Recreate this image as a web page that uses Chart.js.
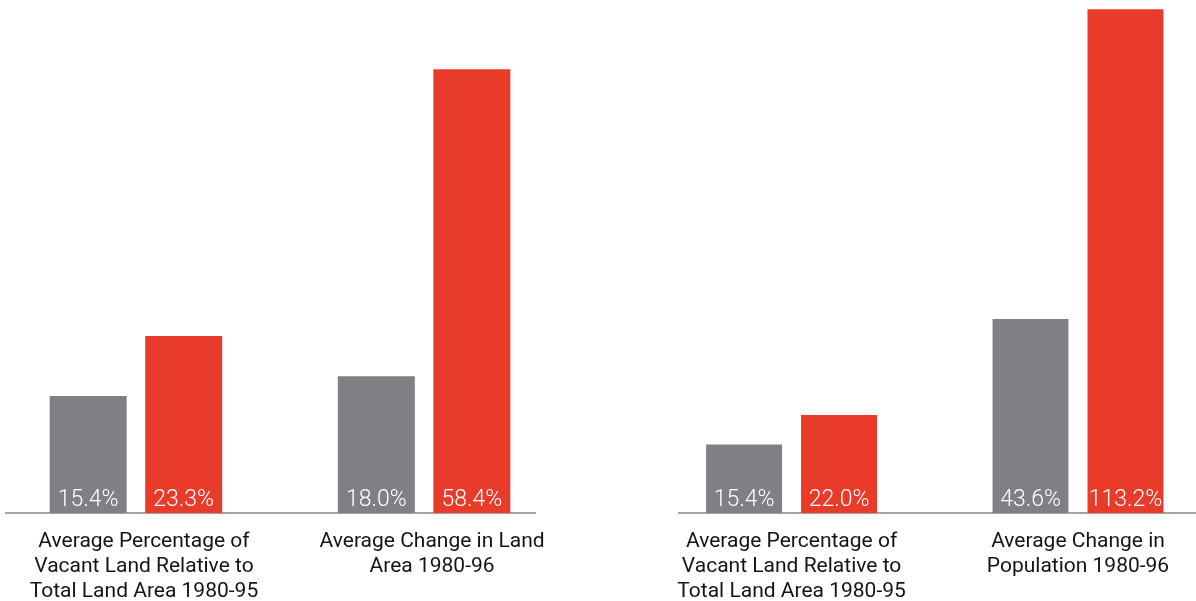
<!DOCTYPE html>
<html>
<head>
<meta charset="utf-8">
<title>Vacant land and growth</title>
<script src="https://cdn.jsdelivr.net/npm/chart.js@4.4.1/dist/chart.umd.min.js"></script>
<style>
  html, body { margin: 0; padding: 0; background: #fff; overflow: hidden; }
  body { width: 1196px; height: 601px; position: relative; }
  canvas { position: absolute; top: 0; }
  #chartLand { left: -24px; }
  #chartPop { left: 649px; }
</style>
</head>
<body>
<canvas id="chartLand" width="589" height="601"></canvas>
<canvas id="chartPop" width="577" height="601"></canvas>
<script>
// left panel: vacant land share and change in land area
const landCategories = [
  ['Average Percentage of', 'Vacant Land Relative to', 'Total Land Area 1980-95'],
  ['Average Change in Land', 'Area 1980-96']
];
const landGray = [15.4, 18.0];
const landRed = [23.3, 58.4];

// right panel: vacant land share and change in population
const popCategories = [
  ['Average Percentage of', 'Vacant Land Relative to', 'Total Land Area 1980-95'],
  ['Average Change in', 'Population 1980-96']
];
const popGray = [15.4, 43.6];
const popRed = [22.0, 113.2];

const GRAY = '#808084';
const RED = '#e83b2a';

// white value text sitting at the foot of each bar
const barValues = {
  id: 'barValues',
  afterDatasetsDraw(chart) {
    const ctx = chart.ctx;
    ctx.save();
    ctx.fillStyle = '#ffffff';
    ctx.font = '300 23px Roboto, "Open Sans", sans-serif';
    ctx.textAlign = 'center';
    ctx.textBaseline = 'alphabetic';
    chart.data.datasets.forEach((ds, i) => {
      chart.getDatasetMeta(i).data.forEach((bar, j) => {
        ctx.fillText(ds.data[j].y.toFixed(1) + '%', bar.x, bar.base - 7);
      });
    });
    ctx.restore();
  }
};

function makePanel(id, categories, gray, red, opts) {
  const points = arr => arr.map((v, i) => ({ x: i, y: v }));
  return new Chart(document.getElementById(id), {
    type: 'bar',
    data: {
      datasets: [
        { label: 'Series 1', data: points(gray), backgroundColor: GRAY },
        { label: 'Series 2', data: points(red), backgroundColor: RED }
      ]
    },
    options: {
      responsive: false,
      animation: false,
      devicePixelRatio: 1,
      categoryPercentage: opts.catPct,
      barPercentage: opts.barPct,
      layout: { padding: { left: 30, right: 30, top: 0, bottom: 0 } },
      plugins: { legend: { display: false }, tooltip: { enabled: false } },
      scales: {
        x: {
          type: 'linear',
          offset: false,
          min: opts.xMin,
          max: opts.xMax,
          grid: { display: false, offset: false },
          border: { display: true, color: '#a4a4a4', width: 2 },
          afterBuildTicks: s => { s.ticks = categories.map((_, i) => ({ value: i })); },
          afterFit: s => { s.height = 88; },
          ticks: {
            padding: 8,
            labelOffset: opts.labelOffset,
            color: '#141414',
            font: { family: 'Roboto, "Open Sans", sans-serif', size: 21, lineHeight: 1.2 },
            maxRotation: 0,
            autoSkip: false,
            callback: v => categories[v]
          }
        },
        y: { display: false, min: 0, max: opts.yMax }
      }
    },
    plugins: [barValues]
  });
}

makePanel('chartLand', landCategories, landGray, landRed,
  { xMin: -0.451, xMax: 1.385, yMax: 67.5, catPct: 0.663, barPct: 0.806, labelOffset: 8 });
makePanel('chartPop', popCategories, popGray, popRed,
  { xMin: -0.393, xMax: 1.412, yMax: 115.3, catPct: 0.663, barPct: 0.8, labelOffset: 0 });
</script>
</body>
</html>
